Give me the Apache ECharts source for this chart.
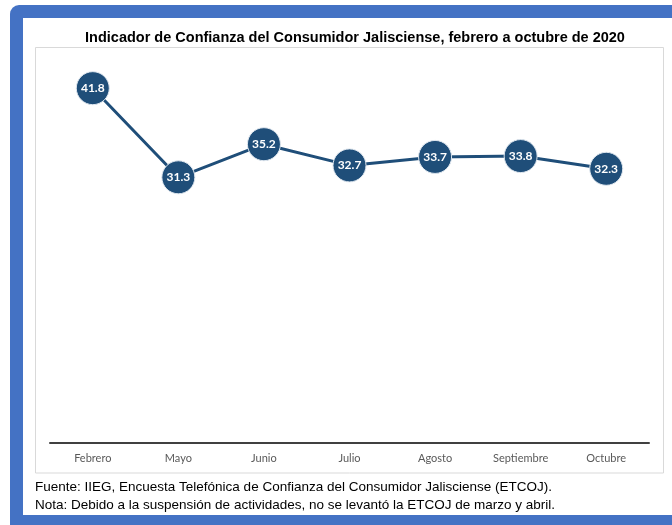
<!DOCTYPE html>
<html>
<head>
<meta charset="utf-8">
<script src="https://cdn.jsdelivr.net/npm/echarts@6/dist/echarts.min.js"></script>
<style>
  html, body { margin: 0; padding: 0; background: #fff; }
  #chart { width: 672px; height: 525px; }
</style>
</head>
<body>
<div id="chart"></div>
<script>
// Consumer confidence index, Jalisco, 2020 (no survey in March and April)
const months = ['Febrero', 'Mayo', 'Junio', 'Julio', 'Agosto', 'Septiembre', 'Octubre'];
const confidence = [41.8, 31.3, 35.2, 32.7, 33.7, 33.8, 32.3];

const titleText = 'Indicador de Confianza del Consumidor Jalisciense, febrero a octubre de 2020';
const sourceText = 'Fuente: IIEG, Encuesta Telefónica de Confianza del Consumidor Jalisciense (ETCOJ).';
const noteText = 'Nota: Debido a la suspensión de actividades, no se levantó la ETCOJ de marzo y abril.';

const navy = '#1f4e79';
const chart = echarts.init(document.getElementById('chart'), null, { renderer: 'canvas' });

chart.setOption({
  backgroundColor: '#ffffff',
  animation: false,
  graphic: [
    // blue frame
    { type: 'rect', z: -10, silent: true,
      shape: { x: 10, y: 5, width: 680, height: 530, r: 9 },
      style: { fill: '#4472c4' } },
    { type: 'rect', z: -9, silent: true,
      shape: { x: 23, y: 18, width: 660, height: 497 },
      style: { fill: '#ffffff' } },
    // chart area box
    { type: 'rect', z: -8, silent: true,
      shape: { x: 35.5, y: 47.5, width: 628, height: 425.5 },
      style: { fill: '#ffffff', stroke: '#d9d9d9', lineWidth: 1 } },
    { type: 'text', left: 35, top: 480, silent: true,
      style: { text: sourceText, fill: '#000', font: '13.5px "Liberation Sans", Arial, sans-serif' } },
    { type: 'text', left: 35, top: 498, silent: true,
      style: { text: noteText, fill: '#000', font: '13.5px "Liberation Sans", Arial, sans-serif' } }
  ],
  title: {
    text: titleText,
    left: 350,
    textAlign: 'center',
    top: 25,
    textStyle: { fontFamily: '"Liberation Sans", Arial, sans-serif', fontSize: 14.5, fontWeight: 'bold', color: '#000' }
  },
  grid: { left: 50, right: 23, top: 61, bottom: 82, containLabel: false },
  xAxis: {
    type: 'category',
    data: months,
    boundaryGap: true,
    axisLine: { show: true, lineStyle: { color: '#404040', width: 2 } },
    axisTick: { show: false },
    axisLabel: { color: '#595959', fontSize: 11, fontFamily: 'Lato, "Open Sans", sans-serif', margin: 10 }
  },
  yAxis: {
    type: 'value',
    min: 0,
    max: 45,
    show: false,
    splitLine: { show: false }
  },
  series: [{
    type: 'line',
    data: confidence,
    symbol: 'circle',
    symbolSize: 33,
    lineStyle: { color: navy, width: 3 },
    itemStyle: { color: navy, borderColor: '#dfe7ef', borderWidth: 1 },
    label: {
      show: true,
      position: 'inside',
      color: '#fff',
      fontSize: 12,
      fontWeight: 'bold',
      fontFamily: 'Lato, "Open Sans", sans-serif',
      formatter: p => p.value.toFixed(1)
    }
  }]
});
</script>
</body>
</html>
